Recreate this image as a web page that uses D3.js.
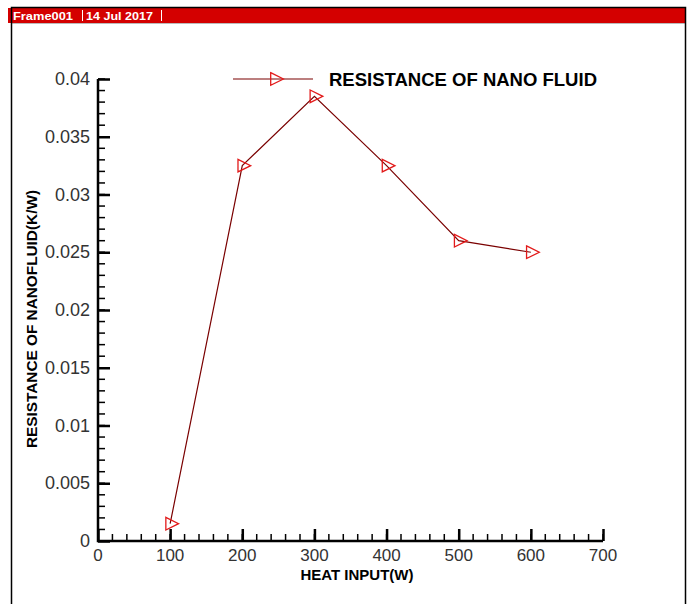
<!DOCTYPE html>
<html><head><meta charset="utf-8">
<script src="https://cdn.jsdelivr.net/npm/d3@7"></script>
<style>body{margin:0;background:#fff;}svg{display:block;}</style>
</head><body>
<script>
const heatInput = [100, 200, 300, 400, 500, 600];
const resistance = [0.0015, 0.0325, 0.0385, 0.0325, 0.026, 0.025];
const xTicks = [0, 100, 200, 300, 400, 500, 600, 700];
const yTicks = [0, 0.005, 0.01, 0.015, 0.02, 0.025, 0.03, 0.035, 0.04];
const seriesName = "RESISTANCE OF NANO FLUID";
const xTitle = "HEAT INPUT(W)";
const yTitle = "RESISTANCE OF NANOFLUID(K/W)";
const headerItems = ["Frame001", "14 Jul 2017"];

const W = 689, H = 604;
const svg = d3.select("body").append("svg").attr("width", W).attr("height", H);
svg.append("rect").attr("width", W).attr("height", H).attr("fill", "#fff");

// frame
svg.append("rect").attr("x", 8).attr("y", 8).attr("width", 677).attr("height", 15).attr("fill", "#d40000");
svg.append("line").attr("x1", 11).attr("x2", 685).attr("y1", 23.5).attr("y2", 23.5).attr("stroke", "#bbb").attr("stroke-width", 1);
svg.append("path").attr("d", "M11.5,620 V7.5 H685.5 V620").attr("fill", "none").attr("stroke", "#000").attr("stroke-width", 1.5);
svg.append("text").attr("x", 13).attr("y", 20).attr("fill", "#fff").attr("font-family", "Liberation Sans, Arial, sans-serif")
  .attr("font-weight", "bold").attr("font-size", 11).attr("textLength", 60).attr("lengthAdjust", "spacingAndGlyphs").text(headerItems[0]);
svg.append("line").attr("x1", 82.5).attr("x2", 82.5).attr("y1", 10).attr("y2", 21).attr("stroke", "#fff");
svg.append("text").attr("x", 86).attr("y", 20).attr("fill", "#fff").attr("font-family", "Liberation Sans, Arial, sans-serif")
  .attr("font-weight", "bold").attr("font-size", 11).attr("textLength", 67).attr("lengthAdjust", "spacingAndGlyphs").text(headerItems[1]);
svg.append("line").attr("x1", 161.5).attr("x2", 161.5).attr("y1", 10).attr("y2", 21).attr("stroke", "#fff");

const x = d3.scaleLinear().domain([0, 700]).range([98, 603]);
const y = d3.scaleLinear().domain([0, 0.04]).range([541, 79]);

const font = "Liberation Sans, Arial, sans-serif";
// minor ticks
const g = svg.append("g");
const xMinor = d3.range(0, 701, 20);
const yMinor = d3.range(0, 41, 1).map(v => v / 1000);
g.selectAll(".xm").data(xMinor).join("line").attr("x1", d => x(d)).attr("x2", d => x(d))
  .attr("y1", 541).attr("y2", 534).attr("stroke", "#000").attr("stroke-width", 1.5);
g.selectAll(".ym").data(yMinor).join("line").attr("y1", d => y(d)).attr("y2", d => y(d))
  .attr("x1", 98).attr("x2", 105).attr("stroke", "#000").attr("stroke-width", 1.5);

// axes with major ticks pointing inward
const xAxis = d3.axisTop(x).tickValues(xTicks).tickSize(12).tickFormat("");
const yAxis = d3.axisRight(y).tickValues(yTicks).tickSize(12).tickFormat("");
const gx = svg.append("g").attr("transform", "translate(0,541)").call(xAxis);
const gy = svg.append("g").attr("transform", "translate(98,0)").call(yAxis);
[gx, gy].forEach(a => {
  a.select(".domain").remove();
  a.selectAll(".tick line").attr("stroke", "#000").attr("stroke-width", 2.5);
});
svg.append("path").attr("d", `M98,${y(0.04)} V541 H603`).attr("fill", "none").attr("stroke", "#000").attr("stroke-width", 2.5);

// tick labels
svg.selectAll(".xl").data(xTicks).join("text").attr("x", d => x(d)).attr("y", 561)
  .attr("text-anchor", "middle").attr("font-family", font).attr("font-size", 17).attr("fill", "#333").text(d => d);
svg.selectAll(".yl").data(yTicks).join("text").attr("x", 90).attr("y", d => y(d) + 6)
  .attr("text-anchor", "end").attr("font-family", font).attr("font-size", 18).attr("fill", "#333").text(d => d === 0 ? "0" : String(+d.toFixed(3)));

// axis titles
svg.append("text").attr("x", 357).attr("y", 580).attr("text-anchor", "middle").attr("font-family", font)
  .attr("font-weight", "bold").attr("font-size", 14).attr("textLength", 113).attr("lengthAdjust", "spacingAndGlyphs").text(xTitle);
svg.append("text").attr("transform", "translate(37,319) rotate(-90)").attr("text-anchor", "middle").attr("font-family", font)
  .attr("font-weight", "bold").attr("font-size", 15).attr("textLength", 258).attr("lengthAdjust", "spacingAndGlyphs").text(yTitle);

// series
const pts = heatInput.map((h, i) => [h, resistance[i]]);
svg.append("path").datum(pts).attr("d", d3.line().x(d => x(d[0])).y(d => y(d[1])))
  .attr("fill", "none").attr("stroke", "#7a0000").attr("stroke-width", 1.2);
const tri = "M-4.3,-6.3 L8.4,0 L-4.3,6.3 Z";
svg.selectAll(".mk").data(pts).join("path").attr("d", tri)
  .attr("transform", d => `translate(${x(d[0])},${y(d[1])})`)
  .attr("fill", "none").attr("stroke", "#e21a1a").attr("stroke-width", 1.3);

// legend
svg.append("line").attr("x1", 233).attr("x2", 313).attr("y1", 79).attr("y2", 79).attr("stroke", "#7a0000").attr("stroke-width", 1.2);
svg.append("path").attr("d", tri).attr("transform", "translate(275,79)").attr("fill", "none").attr("stroke", "#e21a1a").attr("stroke-width", 1.3);
svg.append("text").attr("x", 329).attr("y", 86).attr("font-family", font).attr("font-weight", "bold").attr("font-size", 18)
  .attr("textLength", 268).attr("lengthAdjust", "spacingAndGlyphs").text(seriesName);
</script>
</body></html>
